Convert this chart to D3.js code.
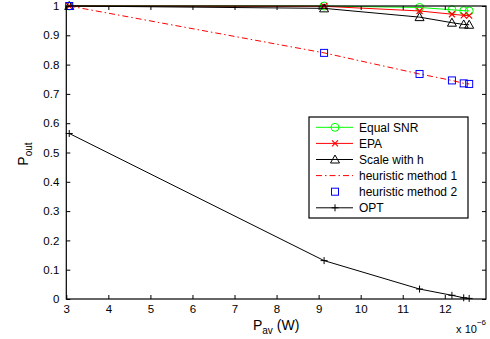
<!DOCTYPE html>
<html>
<head>
<meta charset="utf-8">
<script src="https://cdn.jsdelivr.net/npm/d3@7"></script>
<style>
body { margin: 0; background: #fff; }
text { font-family: "Liberation Sans", Arial, Helvetica, sans-serif; fill: #000; }
</style>
</head>
<body>
<svg id="chart" width="490" height="339"></svg>
<script>
// data
var pav = [3.07, 9.13, 11.40, 12.17, 12.45, 12.58];
var equalSnr = [1.0, 1.0, 0.995, 0.987, 0.984, 0.983];
var epa = [1.0, 0.999, 0.983, 0.972, 0.968, 0.967];
var scaleH = [1.0, 0.992, 0.962, 0.943, 0.937, 0.936];
var heur1 = [1.0, 0.840, 0.768, 0.746, 0.736, 0.734];
var heur2 = [1.0, 0.840, 0.768, 0.746, 0.736, 0.734];
var opt = [0.565, 0.131, 0.034, 0.0126, 0.004, 0.002];
var xTicks = [3, 4, 5, 6, 7, 8, 9, 10, 11, 12];
var yTicks = [0, 0.1, 0.2, 0.3, 0.4, 0.5, 0.6, 0.7, 0.8, 0.9, 1];
var names = ["Equal SNR", "EPA", "Scale with h", "heuristic method 1", "heuristic method 2", "OPT"];

var pLeft = 66.3, pRight = 486, pTop = 6, pBottom = 299;
var x = d3.scaleLinear().domain([3, 12.98]).range([pLeft, pRight]);
var y = d3.scaleLinear().domain([0, 1]).range([pBottom, pTop]);

var svg = d3.select("#chart");

// series definition (style only)
var series = [
  {name: names[0], v: equalSnr, color: "#00ff00", line: true, dash: null, marker: "circle"},
  {name: names[1], v: epa, color: "#ff0000", line: true, dash: null, marker: "x"},
  {name: names[2], v: scaleH, color: "#000000", line: true, dash: null, marker: "tri"},
  {name: names[3], v: heur1, color: "#ff0000", line: true, dash: "6,3,1.5,3", marker: null},
  {name: names[4], v: heur2, color: "#0000ff", line: false, dash: null, marker: "square"},
  {name: names[5], v: opt, color: "#000000", line: true, dash: null, marker: "plus"}
];

function drawMarker(g, type, cx, cy, color) {
  if (type == "circle") {
    g.append("circle").attr("cx", cx).attr("cy", cy).attr("r", 4).attr("fill", "none").attr("stroke", color).attr("stroke-width", 1);
  } else if (type == "x") {
    g.append("path").attr("d", "M" + (cx - 3) + "," + (cy - 3) + "L" + (cx + 3) + "," + (cy + 3) + "M" + (cx - 3) + "," + (cy + 3) + "L" + (cx + 3) + "," + (cy - 3))
      .attr("stroke", color).attr("stroke-width", 1.2).attr("fill", "none");
  } else if (type == "tri") {
    g.append("path").attr("d", "M" + cx + "," + (cy - 4.5) + "L" + (cx + 4.5) + "," + (cy + 3.5) + "L" + (cx - 4.5) + "," + (cy + 3.5) + "Z")
      .attr("stroke", color).attr("stroke-width", 1).attr("fill", "none");
  } else if (type == "square") {
    g.append("rect").attr("x", cx - 3.5).attr("y", cy - 3.5).attr("width", 7).attr("height", 7)
      .attr("stroke", color).attr("stroke-width", 1).attr("fill", "none");
  } else if (type == "plus") {
    g.append("path").attr("d", "M" + (cx - 3.5) + "," + cy + "L" + (cx + 3.5) + "," + cy + "M" + cx + "," + (cy - 3.5) + "L" + cx + "," + (cy + 3.5))
      .attr("stroke", color).attr("stroke-width", 1).attr("fill", "none");
  }
}

var plot = svg.append("g");
var line = d3.line().x(function(d, i) { return x(pav[i]); }).y(function(d) { return y(d); });

series.forEach(function(s) {
  if (s.line) {
    plot.append("path").datum(s.v).attr("d", line).attr("fill", "none").attr("stroke", s.color)
      .attr("stroke-width", 1).attr("stroke-dasharray", s.dash);
  }
  if (s.marker) {
    s.v.forEach(function(d, i) { drawMarker(plot, s.marker, x(pav[i]), y(d), s.color); });
  }
});

// axes with inward ticks on all four sides
var tl = 4;
svg.append("g").attr("transform", "translate(0," + pBottom + ")")
  .call(d3.axisBottom(x).tickValues(xTicks).tickSizeInner(-tl).tickSizeOuter(0).tickPadding(6).tickFormat(d3.format("d")))
  .call(function(g) { g.select(".domain").remove(); });
svg.append("g").attr("transform", "translate(0," + pTop + ")")
  .call(d3.axisTop(x).tickValues(xTicks).tickSizeInner(-tl).tickSizeOuter(0).tickFormat(""))
  .call(function(g) { g.select(".domain").remove(); });
svg.append("g").attr("transform", "translate(" + pLeft + ",0)")
  .call(d3.axisLeft(y).tickValues(yTicks).tickSizeInner(-tl).tickSizeOuter(0).tickPadding(7).tickFormat(function(d) { return String(+d.toFixed(1)); }))
  .call(function(g) { g.select(".domain").remove(); });
svg.append("g").attr("transform", "translate(" + pRight + ",0)")
  .call(d3.axisRight(y).tickValues(yTicks).tickSizeInner(-tl).tickSizeOuter(0).tickFormat(""))
  .call(function(g) { g.select(".domain").remove(); });

svg.selectAll(".tick text").style("font-size", "11.5px").style("font-family", "'Liberation Sans', Arial, sans-serif").attr("fill", "#000");
svg.selectAll(".tick line").attr("stroke", "#000");

svg.append("rect").attr("x", pLeft).attr("y", pTop).attr("width", pRight - pLeft).attr("height", pBottom - pTop)
  .attr("fill", "none").attr("stroke", "#000").attr("stroke-width", 1.2);

// axis labels
var xl = svg.append("text").attr("x", (pLeft + pRight) / 2).attr("y", 329.5).style("text-anchor", "middle").style("font-size", "14px");
xl.append("tspan").text("P");
xl.append("tspan").attr("dy", 4).style("font-size", "10px").text("av");
xl.append("tspan").attr("dy", -4).text(" (W)");

var yl = svg.append("text").attr("transform", "translate(28,154) rotate(-90)").style("text-anchor", "middle").style("font-size", "14px");
yl.append("tspan").text("P");
yl.append("tspan").attr("dy", 4).style("font-size", "10px").text("out");

var ex = svg.append("text").attr("x", pRight).attr("y", 332.5).style("text-anchor", "end").style("font-size", "11px");
ex.append("tspan").text("x 10");
ex.append("tspan").attr("dy", -8).style("font-size", "8px").text("\u22126");

// legend
var lg = svg.append("g");
lg.append("rect").attr("x", 309).attr("y", 117).attr("width", 159).attr("height", 101)
  .attr("fill", "#fff").attr("stroke", "#000").attr("stroke-width", 1.2);
series.forEach(function(s, i) {
  var cy = 127.3 + i * 16.1;
  if (s.line) {
    lg.append("line").attr("x1", 316).attr("x2", 353).attr("y1", cy).attr("y2", cy)
      .attr("stroke", s.color).attr("stroke-width", 1).attr("stroke-dasharray", s.dash);
  }
  if (s.marker) drawMarker(lg, s.marker, 335, cy, s.color);
  lg.append("text").attr("x", 359).attr("y", cy).attr("dy", "0.36em").style("font-size", "12px").text(s.name);
});
</script>
</body>
</html>
